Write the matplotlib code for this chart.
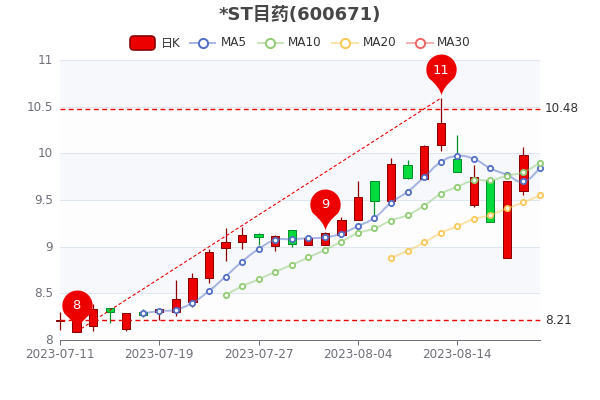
#!/usr/bin/env python
# -*- coding: utf-8 -*-

import numpy as np
import matplotlib
matplotlib.use('Agg')
import matplotlib.pyplot as plt
from matplotlib.path import Path
from matplotlib.patches import PathPatch, FancyBboxPatch, Rectangle
from matplotlib.lines import Line2D
from matplotlib.transforms import ScaledTranslation

plt.rcParams['font.family'] = ['DejaVu Sans', 'Noto Sans CJK SC']

nan = float('nan')

dates = ['2023-07-11', '2023-07-12', '2023-07-13', '2023-07-14', '2023-07-17',
         '2023-07-18', '2023-07-19', '2023-07-20', '2023-07-21', '2023-07-24',
         '2023-07-25', '2023-07-26', '2023-07-27', '2023-07-28', '2023-07-31',
         '2023-08-01', '2023-08-02', '2023-08-03', '2023-08-04', '2023-08-07',
         '2023-08-08', '2023-08-09', '2023-08-10', '2023-08-11', '2023-08-14',
         '2023-08-15', '2023-08-16', '2023-08-17', '2023-08-18', '2023-08-21']
tick_dates = ['2023-07-11', '2023-07-19', '2023-07-27', '2023-08-04', '2023-08-14']

opens = [8.20, 8.09, 8.15, 8.34, 8.12, 8.30, 8.30, 8.30, 8.41, 8.66,
         8.99, 9.05, 9.14, 9.01, 9.18, 9.02, 9.02, 9.13, 9.29, 9.70,
         9.49, 9.88, 9.72, 10.09, 9.94, 9.45, 9.71, 8.88, 9.60, nan]
closes = [8.21, 8.30, 8.33, 8.30, 8.29, 8.27, 8.33, 8.44, 8.66, 8.94,
          9.05, 9.125, 9.10, 9.11, 9.03, 9.09, 9.15, 9.29, 9.53, 9.49,
          9.89, 9.74, 10.08, 10.32, 9.80, 9.75, 9.26, 9.70, 9.98, nan]
lows = [8.11, 8.09, 8.10, 8.185, 8.10, 8.25, 8.21, 8.26, 8.35, 8.61,
        8.85, 8.97, 9.02, 8.95, 9.00, 9.02, 9.02, 9.13, 9.29, 9.33,
        9.45, 9.72, 9.72, 10.03, 9.80, 9.42, 9.26, 8.88, 9.55, nan]
highs = [8.30, 8.36, 8.39, 8.34, 8.29, 8.33, 8.33, 8.64, 8.72, 8.98,
         9.20, 9.21, 9.15, 9.13, 9.18, 9.13, 9.16, 9.32, 9.70, 9.70,
         9.95, 9.93, 10.09, 10.59, 10.20, 9.88, 9.71, 9.70, 10.07, nan]

ma5 = [nan, nan, nan, nan, nan, 8.285, 8.31, 8.325, 8.40, 8.525,
       8.68, 8.84, 8.975, 9.07, 9.08, 9.09, 9.10, 9.14, 9.22, 9.31,
       9.47, 9.59, 9.745, 9.905, 9.97, 9.94, 9.84, 9.77, 9.70, 9.84]
ma10 = [nan, nan, nan, nan, nan, nan, nan, nan, nan, nan,
        8.48, 8.575, 8.65, 8.73, 8.805, 8.885, 8.965, 9.055, 9.145, 9.195,
        9.28, 9.34, 9.44, 9.565, 9.64, 9.71, 9.71, 9.76, 9.80, 9.90]
ma20 = [nan] * 20 + [8.88, 8.955, 9.045, 9.145, 9.22, 9.295, 9.34, 9.41, 9.475, 9.55]

pin_idx = [1, 16, 23]
pin_values = [8.10, 9.18, 10.62]
pin_labels = ['8', '9', '11']

level_lines = [10.48, 8.21]
trend_idx = [1, 23]
trend_values = [8.09, 10.59]

RED, RED_EDGE = '#ec0000', '#8a0000'
GREEN, GREEN_EDGE = '#00da3c', '#008f28'
AXIS_GRAY = '#6e7079'
MA_COLORS = {'MA5': '#5470c6', 'MA10': '#91cc75', 'MA20': '#fac858', 'MA30': '#ee6666'}


def smooth_path(xs, ys, k=0.25):
    # bezier through the points, same kind of look as a smoothed line
    pts = np.column_stack([xs, ys])
    verts = [pts[0]]
    codes = [Path.MOVETO]
    n = len(pts)
    for i in range(n - 1):
        prev_pt = pts[max(i - 1, 0)]
        next_pt = pts[min(i + 2, n - 1)]
        verts += [pts[i] + (pts[i + 1] - prev_pt) * k,
                  pts[i + 1] - (next_pt - pts[i]) * k,
                  pts[i + 1]]
        codes += [Path.CURVE4] * 3
    return Path(verts, codes)


def pin_marker():
    # teardrop with its tip on the origin, the sides of the tail curve inwards
    r, cy = 15.0, 25.5
    t = np.linspace(np.radians(-35), np.radians(215), 70)
    arc = np.column_stack([r * np.cos(t), cy + r * np.sin(t)])
    verts = [(0, 0), (1.5, 8), tuple(arc[0])]
    codes = [Path.MOVETO, Path.CURVE3, Path.CURVE3]
    for p in arc[1:]:
        verts.append(tuple(p))
        codes.append(Path.LINETO)
    verts += [(-1.5, 8), (0, 0)]
    codes += [Path.CURVE3, Path.CURVE3]
    return Path(verts, codes)


def plot_candles(ax):
    for i, (o, c, l, h) in enumerate(zip(opens, closes, lows, highs)):
        if np.isnan(o):
            continue
        fill, edge = (RED, RED_EDGE) if c >= o else (GREEN, GREEN_EDGE)
        ax.plot([i, i], [l, h], color=edge, lw=0.9, zorder=3, clip_on=False,
                solid_capstyle='butt')
        ax.add_patch(Rectangle((i - 0.25, min(o, c)), 0.5, abs(c - o),
                               facecolor=fill, edgecolor=edge, lw=0.72,
                               zorder=3.1, clip_on=False))


def plot_ma(ax, values, color):
    xs = np.arange(len(values))
    ys = np.array(values)
    keep = ~np.isnan(ys)
    ax.add_patch(PathPatch(smooth_path(xs[keep], ys[keep]), fill=False,
                           edgecolor=color, lw=1.44, alpha=0.5, zorder=4,
                           clip_on=False))
    ax.plot(xs[keep], ys[keep], ls='none', marker='o', ms=3.8, mew=1.3,
            mec=color, mfc='white', zorder=4.5, clip_on=False)


def plot_marklines(ax):
    for value in level_lines:
        ax.plot([0, 29.2], [value, value], color=RED, lw=1, ls=(0, (3.5, 2.5)),
                zorder=5, clip_on=False)
        ax.annotate('{:.2f}'.format(value), (29, value), xytext=(5, 0),
                    textcoords='offset pixels', color='#333333', fontsize=8.64,
                    va='center', ha='left', annotation_clip=False)
    ax.plot(trend_idx, trend_values, color=RED, lw=0.8, ls=(0, (3, 2)), zorder=5,
            clip_on=False)


def plot_pins(ax):
    marker = pin_marker()
    for i, value, label in zip(pin_idx, pin_values, pin_labels):
        ax.plot([i], [value], ls='none', marker=marker, ms=59, mfc=RED, mec='none',
                zorder=6, clip_on=False)
        ax.annotate(label, (i, value), xytext=(0, 25),
                    textcoords='offset pixels', color='white', fontsize=9.4,
                    ha='center', va='center', zorder=7, annotation_clip=False)


def plot_legend(fig):
    # pixel positions, y counted from the top of the figure
    tr = fig.dpi_scale_trans
    def px(x, y):
        return x / fig.dpi, (400 - y) / fig.dpi

    y0 = 43
    x1, y1 = px(130, y0 + 7)
    fig.add_artist(FancyBboxPatch((x1, y1), 25 / fig.dpi, 14 / fig.dpi,
                                  boxstyle='round,pad=0,rounding_size=0.04',
                                  facecolor=RED, edgecolor=RED_EDGE, lw=1.2,
                                  transform=tr))
    x, y = px(160.5, y0)
    fig.text(x, y, '日K', transform=tr, fontsize=8.64, color='#333333',
             ha='left', va='center')

    starts = [('MA5', 190, 220.5), ('MA10', 257.5, 288), ('MA20', 332, 362.5),
              ('MA30', 407, 437)]
    for name, x_line, x_text in starts:
        color = MA_COLORS[name]
        xa, y = px(x_line, y0)
        xb, _ = px(x_line + 25.5, y0)
        xc, _ = px(x_line + 12.75, y0)
        fig.add_artist(Line2D([xa, xb], [y, y], color=color, lw=1.44, alpha=0.5,
                              transform=tr))
        fig.add_artist(Line2D([xc], [y], ls='none', marker='o', ms=6.6, mew=1.44,
                              mec=color, mfc='white', transform=tr))
        x, y = px(x_text, y0)
        fig.text(x, y, name, transform=tr, fontsize=8.64, color='#333333',
                 ha='left', va='center')


def main():
    fig = plt.figure(figsize=(6, 4), dpi=100)
    ax = fig.add_axes([60 / 600, 60 / 400, 480 / 600, 280 / 400])

    ax.set_xlim(0, len(dates) - 1)
    ax.set_ylim(8, 11)

    ax.axhspan(8, 8.5, facecolor='#fdfdfe', lw=0, zorder=0)
    ax.axhspan(8.5, 9, facecolor='#f6f8fc', lw=0, zorder=0)
    ax.axhspan(9, 9.5, facecolor='#fdfdfe', lw=0, zorder=0)
    ax.axhspan(9.5, 10, facecolor='#f6f8fc', lw=0, zorder=0)
    ax.axhspan(10, 10.5, facecolor='#fdfdfe', lw=0, zorder=0)
    ax.axhspan(10.5, 11, facecolor='#f6f8fc', lw=0, zorder=0)

    yticks = [8, 8.5, 9, 9.5, 10, 10.5, 11]
    ax.set_yticks(yticks)
    ax.set_yticklabels(['{:g}'.format(v) for v in yticks])
    ax.set_xticks([dates.index(d) for d in tick_dates])
    ax.set_xticklabels(tick_dates)
    ax.grid(axis='y', color='#e0e6f1', lw=0.72, zorder=1)
    ax.set_axisbelow(True)

    for side in ['top', 'right', 'left']:
        ax.spines[side].set_visible(False)
    ax.spines['bottom'].set_color(AXIS_GRAY)
    ax.spines['bottom'].set_linewidth(0.72)
    ax.tick_params(axis='y', length=0, pad=5, labelsize=8.64, labelcolor=AXIS_GRAY)
    ax.tick_params(axis='x', length=3.6, width=0.72, color=AXIS_GRAY, pad=2.2,
                   labelsize=8.64, labelcolor=AXIS_GRAY)
    # y labels sit one pixel higher in the reference
    up = ScaledTranslation(0, 1 / fig.dpi, fig.dpi_scale_trans)
    for label in ax.get_yticklabels():
        label.set_transform(label.get_transform() + up)

    plot_candles(ax)
    plot_ma(ax, ma5, MA_COLORS['MA5'])
    plot_ma(ax, ma10, MA_COLORS['MA10'])
    plot_ma(ax, ma20, MA_COLORS['MA20'])
    plot_marklines(ax)
    plot_pins(ax)
    plot_legend(fig)

    fig.text(0.5, 1 - 15 / 400, '*ST目药(600671)', fontsize=12.96, fontweight='bold',
             color='#464646', ha='center', va='center')

    fig.savefig('out.png', dpi=100)


main()
